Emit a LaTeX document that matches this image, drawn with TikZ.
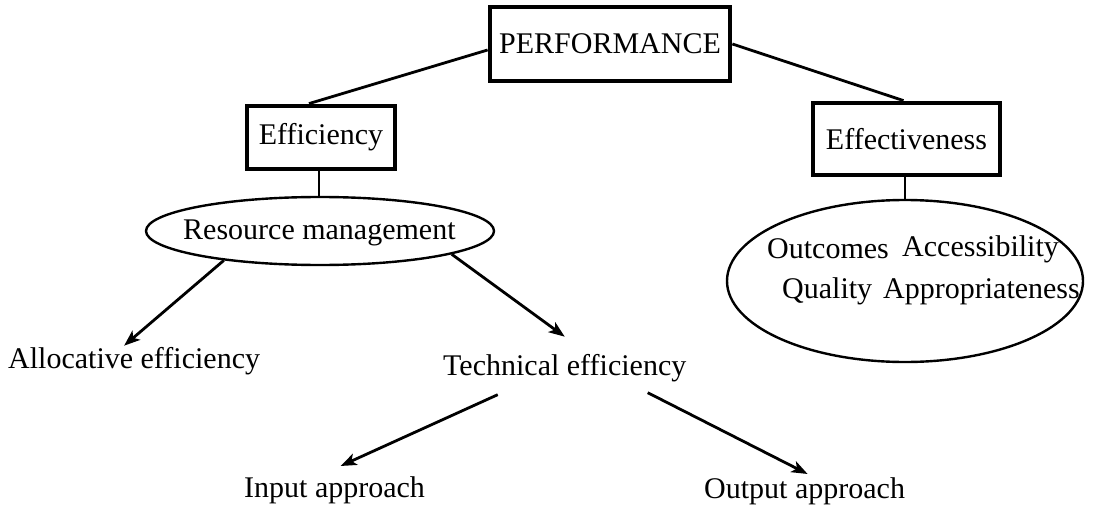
\documentclass[tikz,border=0pt]{standalone}
\usepackage{fontspec}
\setmainfont{Liberation Serif}
\usetikzlibrary{shapes.geometric,arrows.meta}
\begin{document}
\begin{tikzpicture}[x=1pt,y=-1pt,
  lbl/.style={inner sep=0pt,font=\fontsize{30}{34}\selectfont},
  boxnode/.style={draw,line width=4.8pt,inner sep=0pt,font=\fontsize{30}{34}\selectfont},
  ovalnode/.style={draw,ellipse,line width=2.4pt,inner sep=0pt},
  link/.style={line width=2.8pt},
  arrowlink/.style={line width=2.8pt,-{Stealth[length=16pt,width=12pt,inset=4pt]}}]
\useasboundingbox (0,0) rectangle (1102,508);

% top level
\node[boxnode,minimum width=240pt,minimum height=74pt] (perf) at (610,44) {PERFORMANCE};

% the two branches
\node[boxnode,minimum width=148pt,minimum height=63pt] (effy) at (321,137.5) {Efficiency};
\node[boxnode,minimum width=187pt,minimum height=72pt] (effv) at (906.5,139) {Effectiveness};

% ovals
\node[ovalnode,minimum width=348pt,minimum height=68pt] (resm) at (320,231) {};
\node[lbl,anchor=base west] (resmtxt) at (183,239) {Resource management};
\node[ovalnode,minimum width=356pt,minimum height=162pt] (outc) at (905,281) {};
\node[lbl,anchor=base west] (o1) at (767,258) {Outcomes};
\node[lbl,anchor=base west] (o2) at (902,256) {Accessibility};
\node[lbl,anchor=base west] (o3) at (782,298) {Quality};
\node[lbl,anchor=base west] (o4) at (883,298) {Appropriateness};

% leaves
\node[lbl,anchor=base west] (alloc) at (8,368) {Allocative efficiency};
\node[lbl,anchor=base west] (tech) at (443,375) {Technical efficiency};
\node[lbl,anchor=base west] (inp) at (244,497) {Input approach};
\node[lbl,anchor=base west] (outp) at (704,498) {Output approach};

% connectors
\draw[link] ([yshift=-6pt]perf.west) -- ([xshift=-12pt]effy.north);
\draw[link] (perf.east) -- ([xshift=-3pt]effv.north);
\draw[link] ([xshift=-2pt]effy.south) -- ([xshift=-1pt]resm.north);
\draw[link] (effv.south -| outc.north) -- (outc.north);
\draw[arrowlink] (resm.197) -- ([xshift=-10pt,yshift=1pt]alloc.north);
\draw[arrowlink] (resm.-10) -- ([xshift=0pt,yshift=17pt]tech.north);
\draw[arrowlink] ([xshift=-67pt,yshift=-13pt]tech.south) -- ([xshift=6pt,yshift=10pt]inp.north);
\draw[arrowlink] ([xshift=83pt,yshift=-11pt]tech.south) -- ([xshift=3pt,yshift=3pt]outp.north);
\end{tikzpicture}
\end{document}
